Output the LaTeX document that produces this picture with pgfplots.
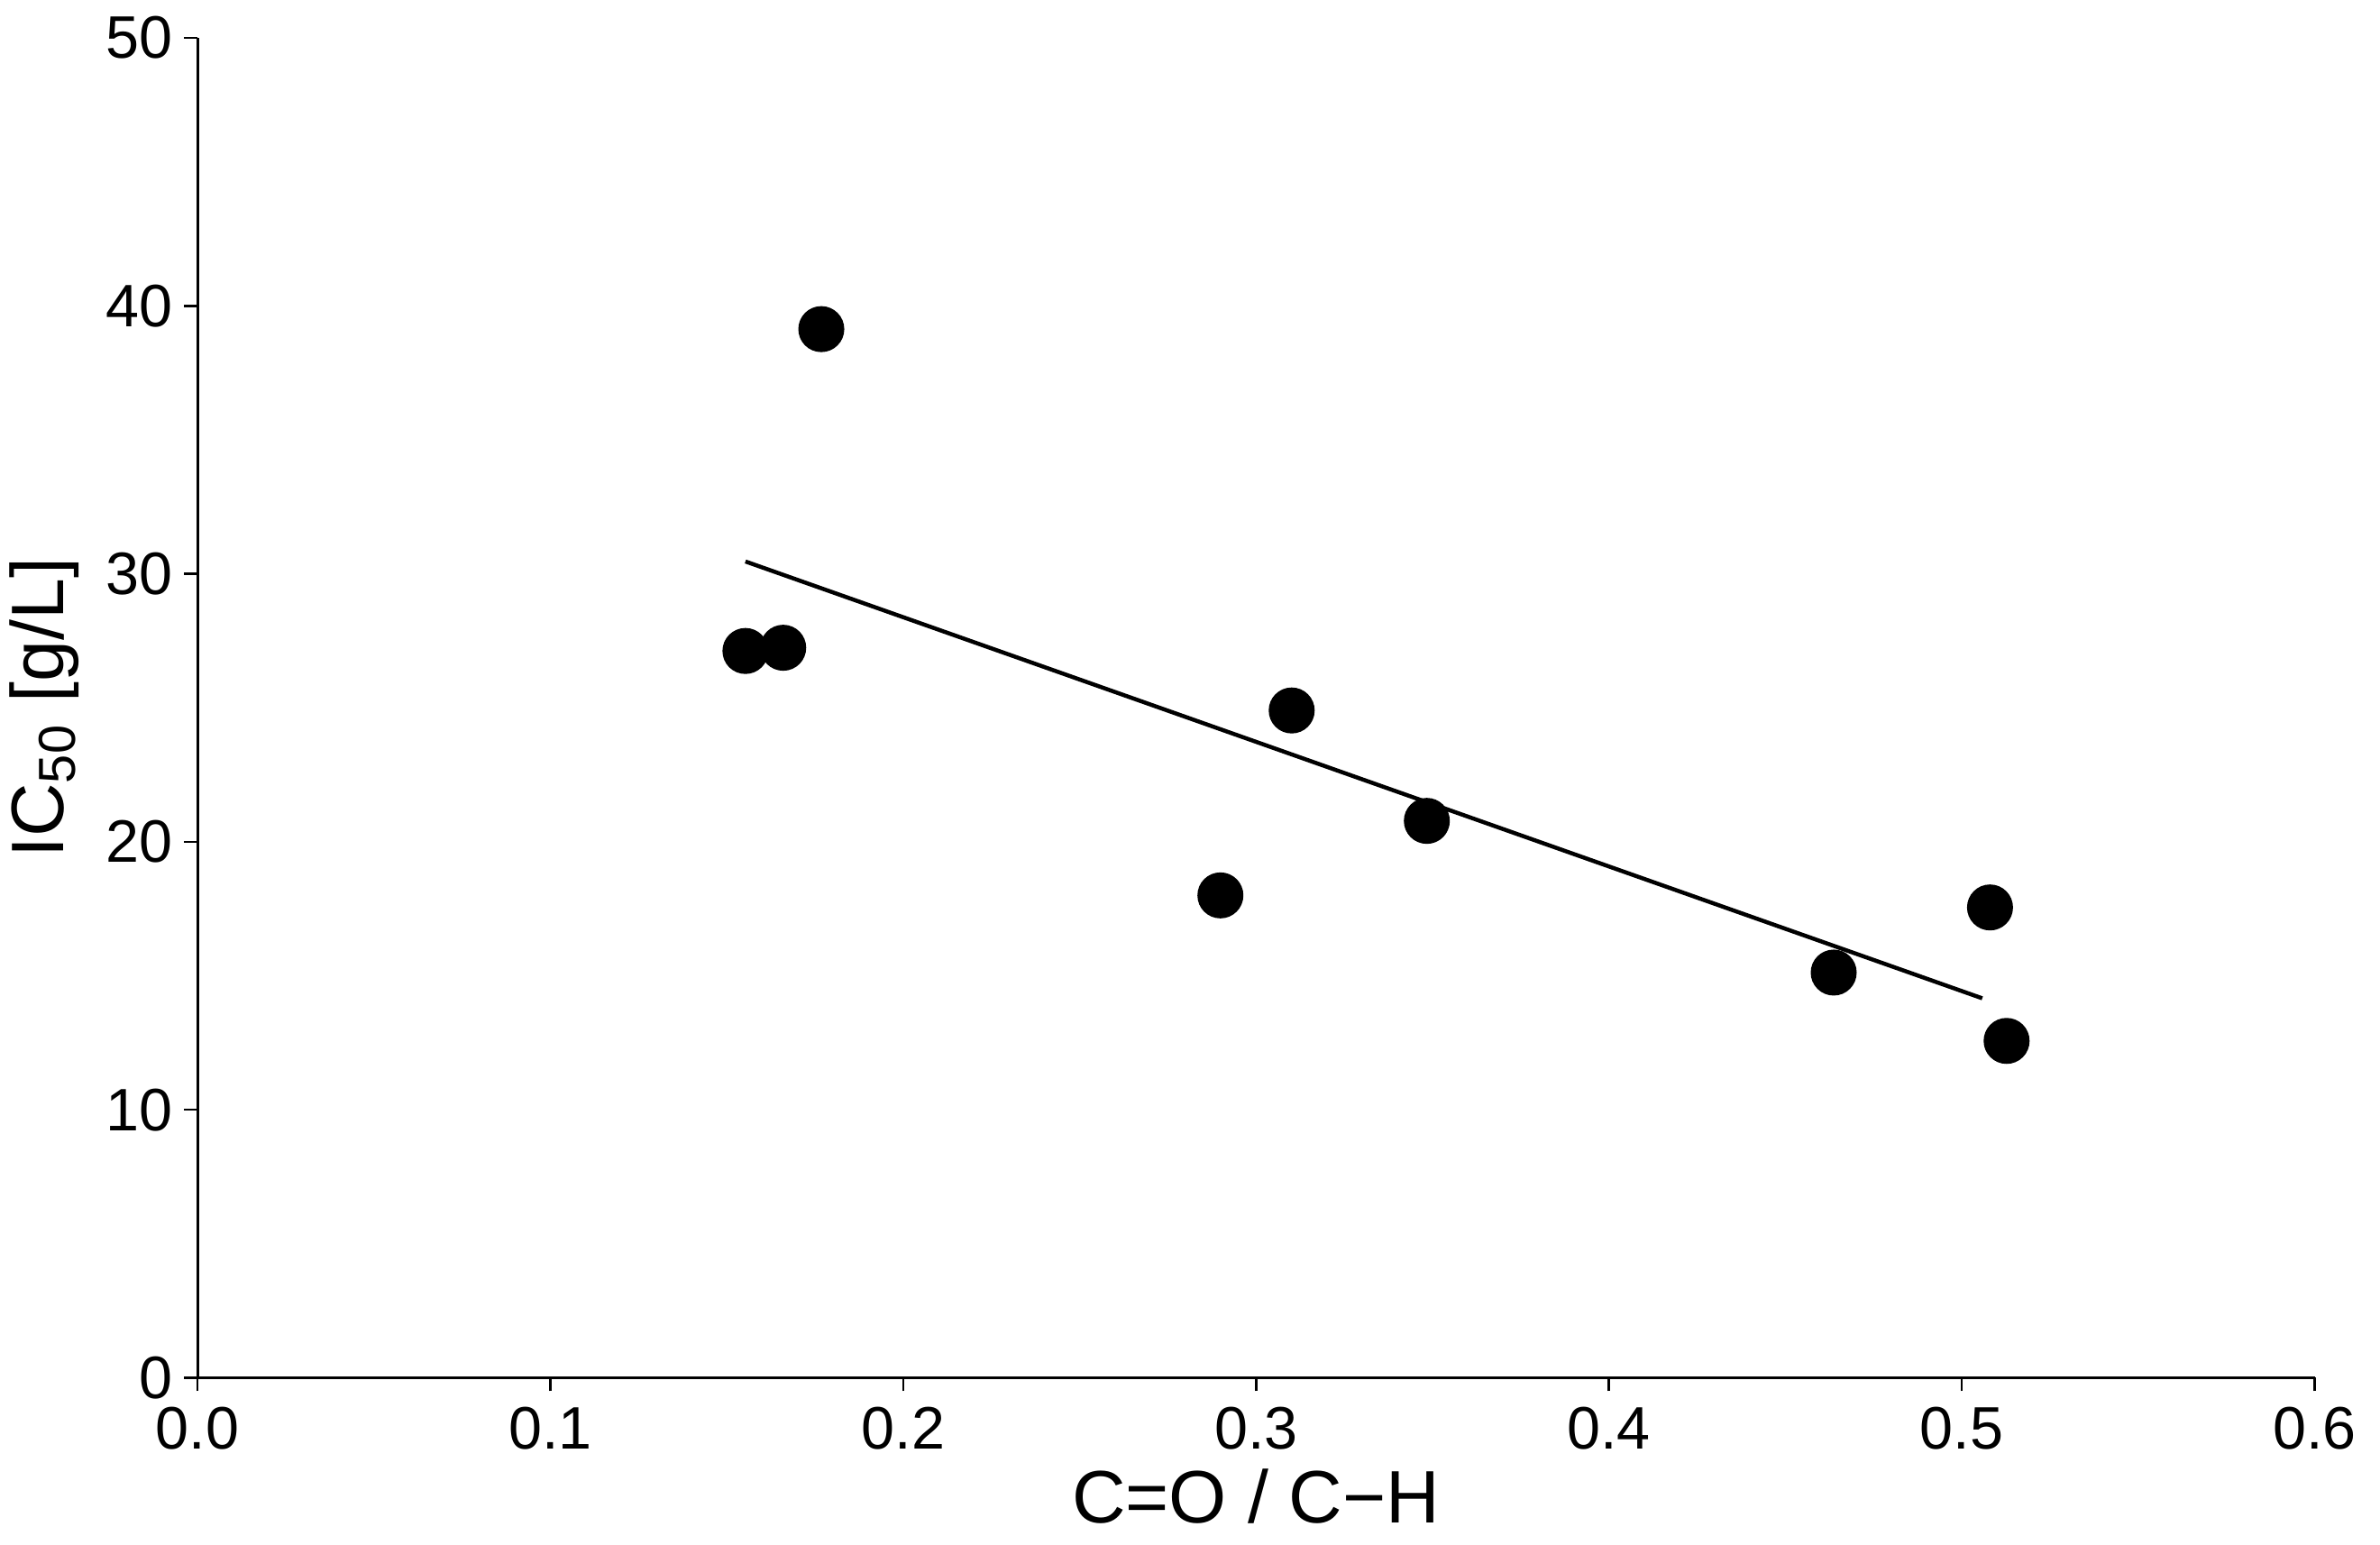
\documentclass[border=0pt]{standalone}
\usepackage{fontspec}
\setmainfont{Liberation Sans}
\usepackage{pgfplots}
\pgfplotsset{compat=1.18}
\begin{document}
\begin{tikzpicture}
\begin{axis}[
  name=ax,
  scale only axis,
  width=469.7pt, height=297.3pt,
  xmin=0, xmax=0.6, ymin=0, ymax=50,
  axis x line*=bottom, axis y line*=left,
  axis line style={line width=0.6pt, -},
  xtick={0,0.1,...,0.6},
  ytick={0,10,...,50},
  xticklabel style={/pgf/number format/.cd, fixed, fixed zerofill, precision=1},
  /pgf/number format/assume math mode=true,
  tick align=outside,
  major tick length=3pt,
  tick style={line width=0.5pt, black},
  ticklabel style={font=\fontsize{13.3}{15}\selectfont},
  yticklabel style={xshift=1pt},
  xlabel={C=O / C−H},
  ylabel={IC\textsubscript{50} [g/L]},
  label style={font=\fontsize{16.5}{19}\selectfont},
  xlabel style={yshift=2.5pt},
  ylabel style={yshift=-1pt},
  clip=false,
]
\addplot[only marks, mark=*, mark size=4.9pt, black] coordinates {
  (0.1553,27.12) (0.1660,27.24) (0.1768,39.13) (0.2899,18.00)
  (0.3101,24.90) (0.3484,20.78) (0.4637,15.12) (0.5080,17.55)
  (0.5127,12.57)
};
\addplot[black, line width=0.9pt] coordinates {(0.1553,30.46) (0.5058,14.16)};
\end{axis}
\pgfresetboundingbox
\path ([xshift=-43.8pt,yshift=-37.1pt]ax.south west) rectangle ([xshift=14.5pt,yshift=8.4pt]ax.north east);
\end{tikzpicture}
\end{document}
